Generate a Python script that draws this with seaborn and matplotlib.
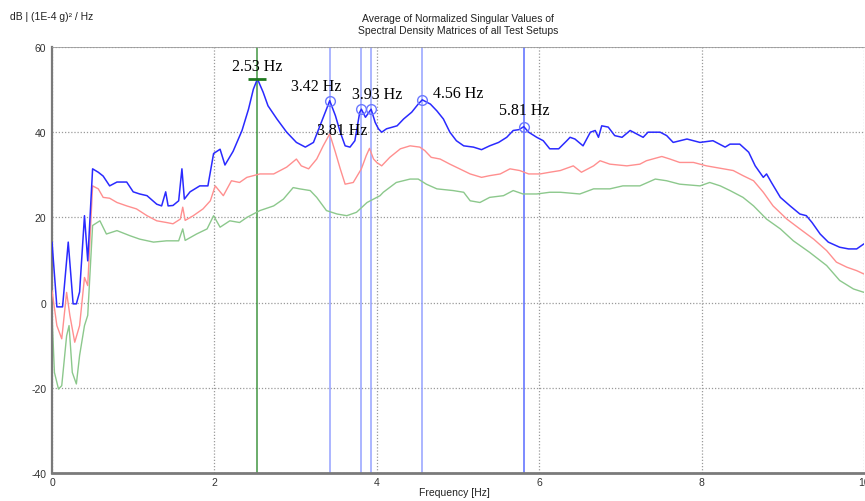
import numpy as np
import pandas as pd
import seaborn as sns
import matplotlib.pyplot as plt

# Singular value curves (Hz, dB)
sv1_freq = [0.00, 0.06, 0.13, 0.20, 0.26, 0.30, 0.34, 0.40, 0.44, 0.50, 0.57, 0.63, 0.71, 0.80, 0.92,
            1.00, 1.08, 1.17, 1.29, 1.35, 1.40, 1.43, 1.49, 1.56, 1.60, 1.63, 1.70, 1.82, 1.92, 1.99,
            2.07, 2.13, 2.23, 2.34, 2.42, 2.48, 2.53, 2.60, 2.66, 2.77, 2.89, 3.01, 3.12, 3.22, 3.30,
            3.38, 3.42, 3.49, 3.55, 3.61, 3.67, 3.73, 3.79, 3.81, 3.86, 3.93, 3.98, 4.02, 4.06, 4.12,
            4.25, 4.33, 4.43, 4.51, 4.56, 4.66, 4.74, 4.82, 4.90, 4.98, 5.07, 5.19, 5.29, 5.39, 5.50,
            5.60, 5.68, 5.75, 5.81, 5.87, 5.97, 6.05, 6.13, 6.24, 6.34, 6.38, 6.44, 6.54, 6.63, 6.69,
            6.73, 6.77, 6.85, 6.93, 7.02, 7.12, 7.20, 7.28, 7.34, 7.49, 7.57, 7.65, 7.82, 7.98, 8.14,
            8.29, 8.35, 8.47, 8.58, 8.66, 8.76, 8.80, 8.86, 8.97, 9.09, 9.21, 9.29, 9.36, 9.46, 9.56,
            9.70, 9.81, 9.91, 10.00]
sv1_db = [14.2, -1.0, -1.0, 14.2, -0.3, -0.3, 2.5, 20.4, 9.8, 31.4, 30.6, 29.7, 27.4, 28.3, 28.3,
          26.0, 25.5, 25.1, 23.1, 22.7, 26.0, 22.7, 22.8, 23.9, 31.4, 24.3, 26.0, 27.4, 27.4, 35.0,
          36.0, 32.3, 35.5, 40.4, 45.4, 50.1, 52.5, 49.4, 46.2, 43.1, 40.0, 37.6, 36.5, 37.6, 41.5,
          45.4, 47.4, 43.9, 40.0, 36.8, 36.5, 38.0, 44.7, 45.4, 43.5, 45.4, 42.3, 40.8, 40.0, 40.8,
          41.5, 43.1, 44.7, 46.6, 47.6, 46.6, 45.0, 43.1, 40.0, 38.0, 36.8, 36.5, 35.9, 36.8, 37.6,
          38.8, 40.4, 40.6, 41.3, 40.0, 38.8, 38.0, 36.1, 36.1, 38.0, 38.8, 38.4, 36.8, 40.0, 40.4,
          38.8, 41.5, 41.2, 39.2, 38.8, 40.4, 39.6, 38.8, 40.0, 40.0, 39.2, 37.6, 38.4, 37.6, 38.0,
          36.5, 37.2, 37.2, 35.3, 32.1, 29.4, 30.2, 28.2, 24.7, 22.7, 20.8, 20.4, 18.8, 16.1, 14.2,
          13.0, 12.6, 12.6, 13.8]

sv2_freq = [0.00, 0.06, 0.12, 0.18, 0.22, 0.28, 0.34, 0.40, 0.44, 0.50, 0.57, 0.63, 0.71, 0.80, 0.92,
            1.04, 1.17, 1.29, 1.41, 1.49, 1.58, 1.61, 1.64, 1.74, 1.86, 1.95, 2.01, 2.11, 2.21, 2.31,
            2.40, 2.56, 2.73, 2.89, 3.01, 3.07, 3.16, 3.26, 3.34, 3.42, 3.49, 3.55, 3.61, 3.71, 3.81,
            3.87, 3.91, 3.96, 4.00, 4.06, 4.16, 4.29, 4.41, 4.53, 4.59, 4.67, 4.78, 4.90, 5.02, 5.15,
            5.29, 5.39, 5.52, 5.64, 5.76, 5.87, 6.01, 6.13, 6.26, 6.42, 6.52, 6.67, 6.75, 6.87, 7.08,
            7.24, 7.32, 7.51, 7.61, 7.73, 7.90, 8.06, 8.21, 8.39, 8.51, 8.64, 8.76, 8.88, 9.05, 9.21,
            9.38, 9.54, 9.66, 9.79, 9.91, 10.00]
sv2_db = [2.8, -5.4, -8.5, 2.4, -3.0, -9.3, -5.4, 5.9, 4.0, 27.4, 26.7, 24.7, 24.5, 23.5, 22.7,
          22.0, 20.4, 19.2, 18.8, 18.5, 19.6, 22.4, 19.3, 20.4, 22.0, 23.9, 27.4, 25.1, 28.6, 28.2,
          29.4, 30.2, 30.2, 31.8, 33.7, 32.1, 31.4, 33.7, 36.8, 39.6, 35.3, 31.4, 27.8, 28.2, 31.4,
          34.5, 36.2, 33.7, 32.9, 32.1, 34.1, 36.1, 36.8, 36.5, 35.7, 34.1, 33.7, 32.5, 31.4, 30.2,
          29.4, 29.8, 30.2, 31.4, 31.0, 30.2, 30.2, 30.6, 31.0, 32.1, 30.6, 32.1, 33.3, 32.5, 32.1,
          32.5, 33.3, 34.3, 33.7, 32.9, 32.9, 32.1, 31.6, 31.0, 29.8, 28.6, 25.9, 22.7, 19.6, 17.3,
          14.9, 12.2, 9.5, 8.3, 7.5, 6.7]

sv3_freq = [0.00, 0.03, 0.08, 0.12, 0.18, 0.21, 0.25, 0.30, 0.34, 0.40, 0.44, 0.50, 0.59, 0.67, 0.80,
            0.96, 1.08, 1.25, 1.41, 1.56, 1.61, 1.64, 1.78, 1.91, 1.99, 2.07, 2.19, 2.31, 2.40, 2.56,
            2.73, 2.85, 2.97, 3.05, 3.18, 3.26, 3.38, 3.51, 3.63, 3.75, 3.88, 4.04, 4.08, 4.24, 4.41,
            4.51, 4.61, 4.74, 4.94, 5.07, 5.15, 5.27, 5.39, 5.56, 5.68, 5.80, 5.97, 6.13, 6.26, 6.50,
            6.67, 6.87, 7.03, 7.24, 7.43, 7.57, 7.73, 7.98, 8.10, 8.23, 8.35, 8.51, 8.64, 8.80, 8.97,
            9.13, 9.33, 9.54, 9.70, 9.87, 10.00]
sv3_db = [-3.0, -16.4, -20.3, -19.5, -7.8, -5.4, -16.4, -19.1, -12.4, -5.4, -3.0, 18.1, 19.2, 16.1, 16.9,
          15.7, 14.9, 14.2, 14.5, 14.5, 17.3, 14.6, 16.1, 17.3, 20.4, 17.7, 19.2, 18.8, 20.0, 21.6,
          22.7, 24.3, 27.0, 26.7, 26.3, 24.7, 21.6, 20.8, 20.4, 21.2, 23.5, 25.1, 25.9, 28.2, 29.0,
          29.0, 27.8, 26.7, 26.3, 25.9, 23.9, 23.5, 24.7, 25.1, 26.3, 25.5, 25.5, 25.9, 25.9, 25.5,
          26.7, 26.7, 27.4, 27.4, 29.0, 28.6, 27.8, 27.4, 28.2, 27.4, 26.3, 24.7, 22.7, 19.6, 17.3,
          14.5, 11.8, 8.7, 5.2, 3.2, 2.4]

# Picked peaks
peak_freq = [2.53, 3.42, 3.81, 3.93, 4.56, 5.81]
peak_db = [52.5, 47.4, 45.4, 45.4, 47.6, 41.3]
peak_labels = ["2.53 Hz", "3.42 Hz", "3.81 Hz", "3.93 Hz", "4.56 Hz", "5.81 Hz"]
label_x = [2.53, 3.25, 3.57, 4.00, 5.00, 5.82]
label_y = [55.6, 50.8, 40.4, 48.9, 49.2, 45.1]

sns.set_style("white")
plt.rcParams['font.family'] = ['Liberation Sans', 'DejaVu Sans']
plt.rcParams['axes.unicode_minus'] = False

fig = plt.figure(figsize=(8.65, 5.02), dpi=100)
ax = fig.add_axes([52 / 865, 28 / 502, 812 / 865, 426 / 502])

df1 = pd.DataFrame({"f": sv1_freq, "db": sv1_db})
df2 = pd.DataFrame({"f": sv2_freq, "db": sv2_db})
df3 = pd.DataFrame({"f": sv3_freq, "db": sv3_db})

# peak lines behind the curves
for f in peak_freq:
    if f == 2.53:
        ax.axvline(f, color="#2e8b2e", lw=1.1, alpha=0.9, zorder=1)
    elif f == 5.81:
        ax.axvline(f, color="#5a6cff", lw=1.3, alpha=0.85, zorder=1)
    else:
        ax.axvline(f, color="#8f9cff", lw=1.3, alpha=0.8, zorder=1)

sns.lineplot(data=df3, x="f", y="db", ax=ax, color="#8cc88c", lw=1.0, estimator=None, zorder=2)
sns.lineplot(data=df2, x="f", y="db", ax=ax, color="#ff8f8f", lw=1.0, estimator=None, zorder=3)
sns.lineplot(data=df1, x="f", y="db", ax=ax, color="#2a2aff", lw=1.1, estimator=None, zorder=4)

# peak markers
ax.plot(peak_freq[0], peak_db[0], marker="_", ms=13, mew=2, color="#1f7a1f", zorder=5)
ax.plot(peak_freq[1:], peak_db[1:], ls="none", marker="o", ms=7, mfc="none",
        mec="#6b78ff", mew=1.0, zorder=5)
for txt, lx, ly in zip(peak_labels, label_x, label_y):
    ax.text(lx, ly, txt, ha="center", va="center", fontsize=11.5,
            family="Liberation Serif", color="black", zorder=6)

ax.set_xlim(0, 10)
ax.set_ylim(-40, 60)
ax.set_xticks([0, 2, 4, 6, 8, 10])
ax.set_yticks([-40, -20, 0, 20, 40, 60])
ax.grid(True, color="#9a9a9a", ls=(0, (1, 1.5)), lw=0.9)
ax.tick_params(labelsize=7.5, colors="#333333", length=3, width=0.8, pad=1)
ax.tick_params(axis="x", pad=0)
ax.tick_params(axis="both", color="#777777")

for side in ["left", "bottom"]:
    ax.spines[side].set_color("#7a7a7a")
ax.spines["left"].set_linewidth(1.6)
ax.spines["bottom"].set_linewidth(2.0)
ax.spines["top"].set_color("#9a9a9a")
ax.spines["top"].set_linewidth(0.6)
ax.spines["right"].set_visible(False)

ax.set_xlabel("")
ax.set_ylabel("")
fig.text(454 / 865, 1 - 493 / 502, "Frequency [Hz]", fontsize=7.5, color="#222222",
         ha="center", va="center")
ax.set_title("Average of Normalized Singular Values of\nSpectral Density Matrices of all Test Setups",
             fontsize=7.5, color="#222222", pad=10, linespacing=1.3)
fig.text(10 / 865, 1 - 17 / 502, "dB | (1E-4 g)² / Hz", fontsize=7.5, color="#222222",
         ha="left", va="center")

plt.savefig("out.png", dpi=100)
plt.close()
